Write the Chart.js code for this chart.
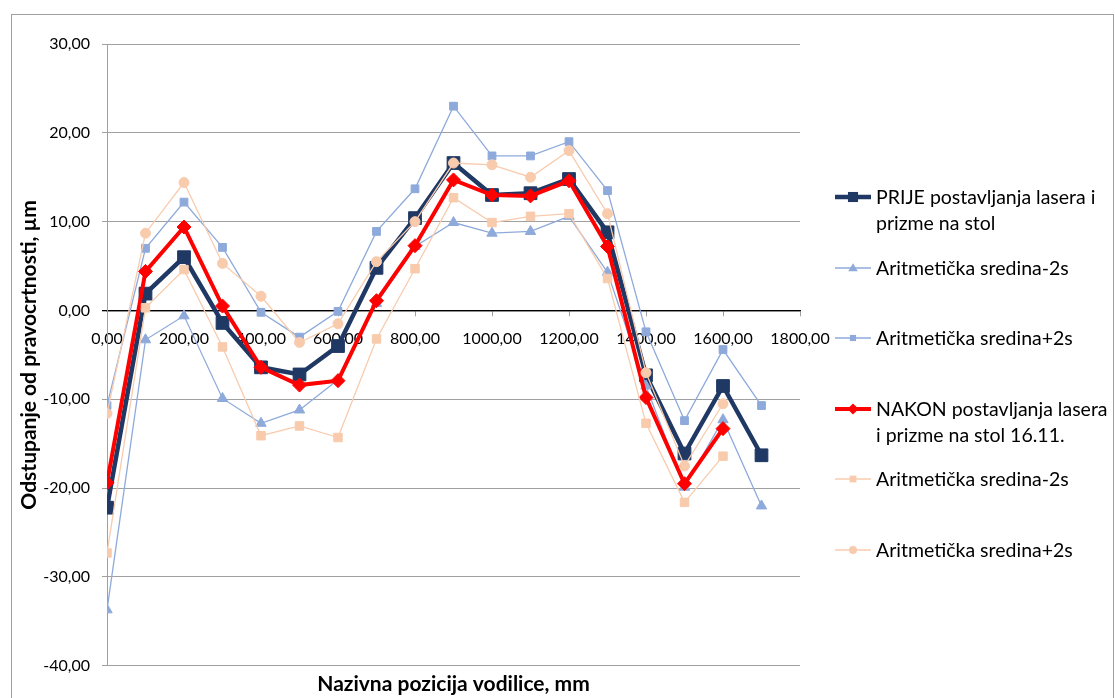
<!DOCTYPE html>
<html lang="hr">
<head>
<meta charset="UTF-8">
<title>Odstupanje od pravocrtnosti</title>
<script src="https://cdn.jsdelivr.net/npm/chart.js"></script>
<style>
  body { margin: 0; background: #fff; font-family: Lato, sans-serif; }
  #wrap { position: relative; width: 1115px; height: 698px; overflow: hidden; }
  #frame { position: absolute; left: 11px; top: 14px; width: 1101px; height: 700px; border: 1px solid #a0a0a0; }
  #chart { position: absolute; left: 0; top: 0; }
  #legend { position: absolute; left: 835px; top: 184px; }
  .item { height: 70.6px; display: flex; align-items: flex-start; }
  .item svg { flex: none; margin-top: 7px; }
  .item span { font-size: 19.5px; line-height: 26px; margin-left: 5px; color: #000; white-space: nowrap; }
</style>
</head>
<body>
<div id="wrap">
  <div id="frame"></div>
  <canvas id="chart" width="1115" height="698"></canvas>
  <div id="legend"></div>
</div>
<script>
// pozicije mjerenja, mm
const positions = [0, 100, 200, 300, 400, 500, 600, 700, 800, 900, 1000, 1100, 1200, 1300, 1400, 1500, 1600, 1700];

// PRIJE postavljanja lasera
const prije      = [-22.2, 1.9, 6.0, -1.4, -6.4, -7.2, -4.0, 4.8, 10.4, 16.6, 13.0, 13.2, 14.8, 8.8, -7.3, -16.1, -8.5, -16.3];
const prijeMinus = [-33.7, -3.3, -0.6, -9.9, -12.7, -11.2, -7.8, 0.8, 7.2, 9.9, 8.7, 8.9, 10.6, 4.3, -8.5, -19.9, -12.3, -22.0];
const prijePlus  = [-10.7, 7.0, 12.2, 7.1, -0.2, -3.0, -0.1, 8.9, 13.7, 23.0, 17.4, 17.4, 19.0, 13.5, -2.4, -12.4, -4.4, -10.7];

// NAKON postavljanja lasera (16.11.)
const nakon      = [-19.4, 4.4, 9.4, 0.5, -6.4, -8.4, -7.9, 1.1, 7.3, 14.7, 13.0, 12.9, 14.6, 7.2, -9.8, -19.5, -13.3];
const nakonMinus = [-27.3, 0.3, 4.6, -4.1, -14.1, -13.0, -14.3, -3.2, 4.7, 12.7, 9.9, 10.6, 10.9, 3.6, -12.7, -21.6, -16.4];
const nakonPlus  = [-11.6, 8.7, 14.4, 5.3, 1.6, -3.6, -1.5, 5.5, 10.0, 16.6, 16.4, 15.0, 18.0, 10.9, -7.0, -17.5, -10.5];

const seriesNames = [
  ['PRIJE postavljanja lasera i', 'prizme na stol'],
  ['Aritmetička sredina-2s'],
  ['Aritmetička sredina+2s'],
  ['NAKON postavljanja lasera', 'i prizme na stol 16.11.'],
  ['Aritmetička sredina-2s'],
  ['Aritmetička sredina+2s']
];

const xTicks = { min: 0, max: 1800, step: 200 };
const yTicks = { min: -40, max: 30, step: 10 };

const navy = '#1F3864', blue = '#8EAADB', red = '#FF0000', peach = '#F8CBAD';

function pts(vals) {
  return vals.map((v, i) => ({ x: positions[i], y: v }));
}
function fmt(v) {
  return v.toFixed(2).replace('.', ',');
}

const styles = [
  { color: navy, width: 4.5, point: 'rect', r: 9 },
  { color: blue, width: 1.3, point: 'triangle', r: 6 },
  { color: blue, width: 1.3, point: 'rect', r: 5.5 },
  { color: red, width: 4, point: 'rectRot', r: 7 },
  { color: peach, width: 1.3, point: 'rect', r: 6 },
  { color: peach, width: 1.3, point: 'circle', r: 5 }
];
const allValues = [prije, prijeMinus, prijePlus, nakon, nakonMinus, nakonPlus];

const datasets = allValues.map((vals, i) => ({
  label: seriesNames[i].join(' '),
  data: pts(vals),
  borderColor: styles[i].color,
  backgroundColor: styles[i].color,
  borderWidth: styles[i].width,
  pointStyle: styles[i].point,
  pointRadius: styles[i].r,
  pointBorderWidth: 1,
  pointBorderColor: styles[i].color,
  pointBackgroundColor: styles[i].color,
  tension: 0,
  order: -i
}));

const font = { family: 'Lato', size: 16 };
const titleFont = { family: 'Lato', size: 21, weight: 'bold' };

new Chart(document.getElementById('chart'), {
  type: 'line',
  data: { datasets: datasets },
  options: {
    responsive: false,
    animation: false,
    layout: { padding: { left: 0, top: 44, right: 315, bottom: 0 } },
    plugins: {
      legend: { display: false },
      tooltip: { enabled: false },
      title: {
        display: true,
        text: 'Nazivna pozicija vodilice, mm',
        position: 'bottom',
        fullSize: false,
        color: '#000',
        font: titleFont,
        padding: { top: 6, bottom: 1 }
      }
    },
    scales: {
      x: {
        type: 'linear',
        position: { y: 0 },
        min: xTicks.min,
        max: xTicks.max,
        border: { color: '#000', width: 1.3 },
        grid: { drawOnChartArea: false, drawTicks: true, tickLength: 5, color: '#a0a0a0' },
        ticks: {
          stepSize: xTicks.step,
          autoSkip: false,
          maxRotation: 0,
          padding: 14,
          color: '#000',
          font: font,
          callback: v => fmt(v)
        }
      },
      y: {
        min: yTicks.min,
        max: yTicks.max,
        border: { color: '#a0a0a0' },
        grid: {
          color: c => (c.tick && c.tick.value === 0 ? '#000' : '#a0a0a0'),
          lineWidth: c => (c.tick && c.tick.value === 0 ? 1.3 : 1),
          tickLength: 5
        },
        ticks: {
          stepSize: yTicks.step,
          padding: 12,
          color: '#000',
          font: font,
          callback: v => fmt(v)
        },
        title: {
          display: true,
          text: 'Odstupanje od pravocrtnosti, µm',
          color: '#000',
          font: titleFont,
          padding: { top: 17, bottom: 0 }
        },
        afterFit: s => { s.width = 107; }
      }
    }
  }
});

// legenda
function symbol(st) {
  const cx = 18, cy = 6;
  let m = '';
  const s = st.r * 0.8;
  if (st.point === 'rect') {
    m = `<rect x="${cx - s * 0.7}" y="${cy - s * 0.7}" width="${s * 1.4}" height="${s * 1.4}" fill="${st.color}"/>`;
  } else if (st.point === 'triangle') {
    m = `<polygon points="${cx},${cy - s} ${cx + s},${cy + s * 0.7} ${cx - s},${cy + s * 0.7}" fill="${st.color}"/>`;
  } else if (st.point === 'rectRot') {
    m = `<polygon points="${cx},${cy - s} ${cx + s},${cy} ${cx},${cy + s} ${cx - s},${cy}" fill="${st.color}"/>`;
  } else {
    m = `<circle cx="${cx}" cy="${cy}" r="${s}" fill="${st.color}"/>`;
  }
  return `<svg width="36" height="12"><line x1="0" y1="6" x2="36" y2="6" stroke="${st.color}" stroke-width="${st.width}"/>${m}</svg>`;
}

const legend = document.getElementById('legend');
seriesNames.forEach((lines, i) => {
  const d = document.createElement('div');
  d.className = 'item';
  d.innerHTML = symbol(styles[i]) + '<span>' + lines.join('<br>') + '</span>';
  legend.appendChild(d);
});
</script>
</body>
</html>
